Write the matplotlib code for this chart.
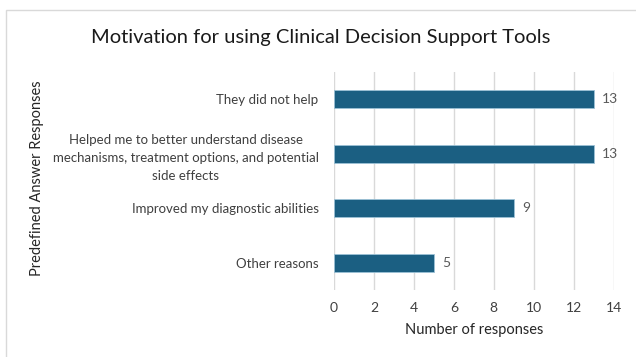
import matplotlib.pyplot as plt
from matplotlib.patches import Rectangle

categories = [
    "They did not help",
    "Helped me to better understand disease\nmechanisms, treatment options, and potential\nside effects",
    "Improved my diagnostic abilities",
    "Other reasons",
]
counts = [13, 13, 9, 5]
xticks = [0, 2, 4, 6, 8, 10, 12, 14]

plt.rcParams['font.family'] = ['Lato', 'DejaVu Sans']

fig = plt.figure(figsize=(6.36, 3.57), dpi=100)
ax = fig.add_axes([0.525, 0.188, 0.44, 0.61])

# chart frame
fig.patches.append(Rectangle((6 / 636, -0.1), 1.1, 1 - 10 / 357 + 0.1,
                             transform=fig.transFigure, fill=False,
                             edgecolor="#d9d9d9", linewidth=1.0))

y = list(range(len(categories)))
ax.barh(y, counts, height=0.33, color="#1b5f82", edgecolor="#9cc2d6", linewidth=0.6, zorder=3)
for yi, c in zip(y, counts):
    ax.text(c + 0.4, yi, str(c), va="center", ha="left", fontsize=10, color="#595959")

ax.set_ylim(3.5, -0.5)
ax.set_xlim(0, 14)
ax.set_xticks(xticks)
ax.set_yticks(y)
ax.set_yticklabels(categories, fontsize=9.5, color="#262626", multialignment="center", linespacing=1.6)
ax.tick_params(axis="both", length=0, colors="#404040")
ax.tick_params(axis="x", labelsize=10, pad=9)
ax.tick_params(axis="y", pad=11)
ax.grid(axis="x", color="#d9d9d9", linewidth=1.0, zorder=0)
for s in ax.spines.values():
    s.set_visible(False)

ax.set_xlabel("Number of responses", fontsize=10.5, color="#262626", labelpad=6)
fig.text(37 / 636, 0.5, "Predefined Answer Responses", rotation=90, fontsize=10.5,
         color="#262626", ha="center", va="center")
fig.text(0.505, 1 - 37 / 357, "Motivation for using Clinical Decision Support Tools",
         fontsize=14.5, color="#1a1a1a", ha="center", va="center")

fig.savefig("out.png", dpi=100)
